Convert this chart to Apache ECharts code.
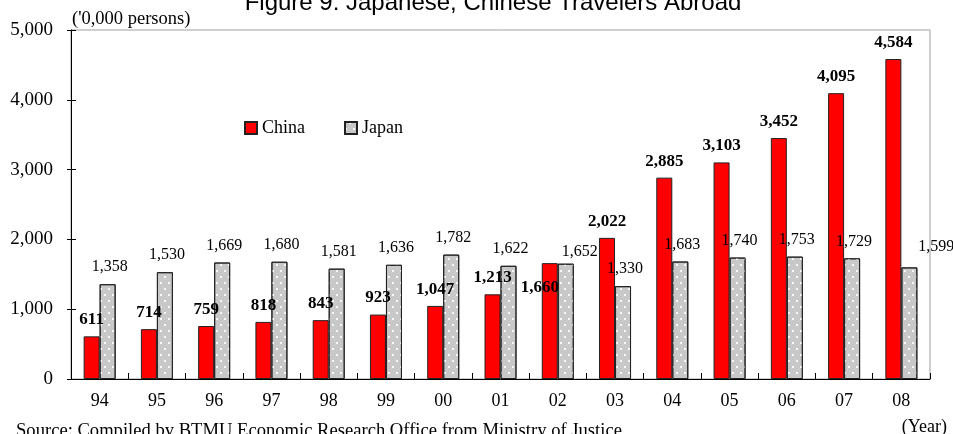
<!DOCTYPE html>
<html>
<head>
<meta charset="utf-8">
<title>Figure 9: Japanese, Chinese Travelers Abroad</title>
<script src="https://cdn.jsdelivr.net/npm/echarts@6/dist/echarts.min.js"></script>
<style>
  html, body { margin: 0; padding: 0; background: #fff; }
  #chart { width: 953px; height: 434px; }
</style>
</head>
<body>
<div id="chart"></div>
<script>
// Outbound travelers, in units of 10,000 persons
const years = ['94', '95', '96', '97', '98', '99', '00', '01', '02', '03', '04', '05', '06', '07', '08'];
const china = [611, 714, 759, 818, 843, 923, 1047, 1213, 1660, 2022, 2885, 3103, 3452, 4095, 4584];
const japan = [1358, 1530, 1669, 1680, 1581, 1636, 1782, 1622, 1652, 1330, 1683, 1740, 1753, 1729, 1599];
const yTicks = [0, 1000, 2000, 3000, 4000, 5000];

// a few value labels sit off their usual spot above the bar
const chinaLabelShift = { '02': [-10, 41] };
const japanLabelShift = { '02': [12, 5], '08': [25, -4] };

const SERIF = '"Liberation Serif", "Times New Roman", serif';
const SANS = '"Liberation Sans", Arial, sans-serif';

const fmt = v => v.toLocaleString('en-US');

function withShifts(values, shifts, baseOffset) {
  return values.map((v, i) => {
    const s = shifts[years[i]];
    if (!s) return v;
    return { value: v, label: { offset: [baseOffset[0] + s[0], baseOffset[1] + s[1]] } };
  });
}

const chart = echarts.init(document.getElementById('chart'), null, { renderer: 'canvas' });

const yAxisBase = {
  type: 'value',
  min: yTicks[0],
  max: yTicks[yTicks.length - 1],
  interval: yTicks[1] - yTicks[0],
  splitLine: { show: false }
};

chart.setOption({
  backgroundColor: '#ffffff',
  animation: false,
  grid: {
    left: 71, right: 23, top: 30, bottom: 55,
    show: true,
    borderColor: '#a0a0a0',
    borderWidth: 1,
    backgroundColor: 'transparent'
  },
  legend: {
    data: ['China', 'Japan'],
    left: 244,
    top: 119,
    padding: 0,
    itemWidth: 12,
    itemHeight: 12,
    itemGap: 39,
    icon: 'rect',
    textStyle: { fontFamily: SERIF, fontSize: 18, color: '#000' }
  },
  xAxis: {
    type: 'category',
    data: years,
    axisLine: { lineStyle: { color: '#000', width: 1 } },
    axisTick: { show: true, inside: true, length: 6, interval: 0, lineStyle: { color: '#000' } },
    axisLabel: { fontFamily: SERIF, fontSize: 18, color: '#000', margin: 13, interval: 0 }
  },
  yAxis: [
    Object.assign({}, yAxisBase, {
      axisLine: { show: true, lineStyle: { color: '#000', width: 1 } },
      axisTick: { show: true, length: 4, lineStyle: { color: '#000' } },
      axisLabel: { fontFamily: SERIF, fontSize: 19, color: '#000', margin: 18, formatter: fmt }
    }),
    // inner half of the crossing ticks on the value axis
    Object.assign({}, yAxisBase, {
      position: 'left',
      offset: 0,
      axisLine: { show: false },
      axisTick: { show: true, inside: true, length: 5, lineStyle: { color: '#000' } },
      axisLabel: { show: false }
    })
  ],
  series: [
    {
      name: 'China',
      type: 'bar',
      data: withShifts(china, chinaLabelShift, [0, 0]),
      barWidth: 16,
      barGap: '0%',
      itemStyle: { color: '#ff0000', borderColor: '#222', borderWidth: 1 },
      label: {
        show: true,
        position: 'top',
        distance: 8,
        fontFamily: SERIF,
        fontSize: 17,
        fontWeight: 'bold',
        color: '#000',
        formatter: p => fmt(p.value)
      }
    },
    {
      name: 'Japan',
      type: 'bar',
      data: withShifts(japan, japanLabelShift, [2, 0]),
      barWidth: 16,
      barGap: '0%',
      itemStyle: {
        color: '#c8c8c8',
        borderColor: '#222',
        borderWidth: 1,
        decal: {
          symbol: 'rect',
          symbolSize: 1,
          color: 'rgba(255,255,255,0.85)',
          dashArrayX: [[1.5, 5.5], [0, 3.5, 1.5, 2]],
          dashArrayY: [1.5, 3.5]
        }
      },
      label: {
        show: true,
        position: 'top',
        distance: 9,
        offset: [2, 0],
        fontFamily: SERIF,
        fontSize: 16,
        color: '#000',
        formatter: p => fmt(p.value)
      }
    }
  ],
  graphic: [
    {
      type: 'text', x: 493, y: 3,
      style: { text: 'Figure 9: Japanese, Chinese Travelers Abroad', font: '24px ' + SANS, fill: '#000', textAlign: 'center', textVerticalAlign: 'middle' }
    },
    {
      type: 'text', x: 72, y: 19,
      style: { text: "('0,000 persons)", font: '18.5px ' + SERIF, fill: '#000', textAlign: 'left', textVerticalAlign: 'middle' }
    },
    {
      type: 'text', x: 16, y: 431,
      style: { text: 'Source: Compiled by BTMU Economic Research Office from Ministry of Justice', font: '18.6px ' + SERIF, fill: '#000', textAlign: 'left', textVerticalAlign: 'middle' }
    },
    {
      type: 'text', x: 947, y: 427,
      style: { text: '(Year)', font: '18px ' + SERIF, fill: '#000', textAlign: 'right', textVerticalAlign: 'middle' }
    }
  ]
});
</script>
</body>
</html>
